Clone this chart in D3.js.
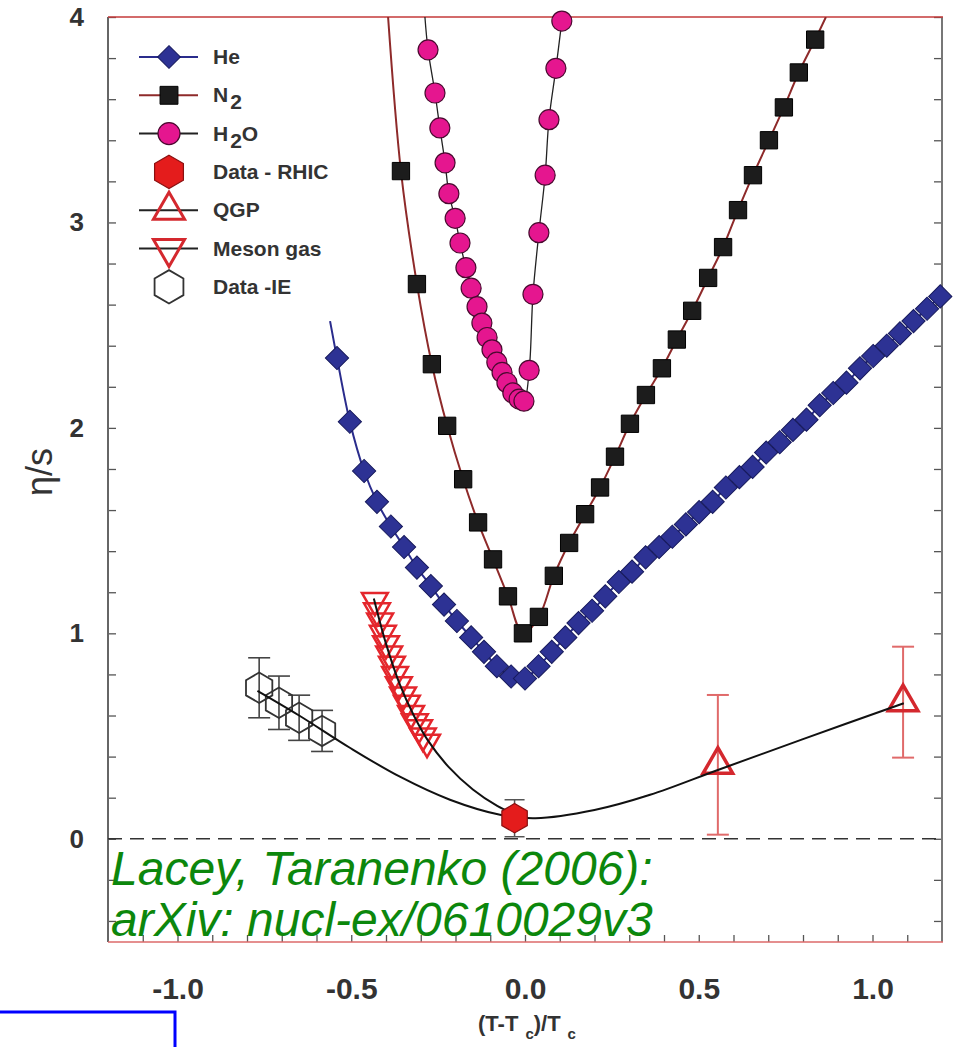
<!DOCTYPE html>
<html>
<head>
<meta charset="utf-8">
<script src="https://cdn.jsdelivr.net/npm/d3@7"></script>
<style>
  body { margin: 0; background: #fff; }
  svg { display: block; font-family: "Liberation Sans", Arial, sans-serif; }
</style>
</head>
<body>
<svg id="chart" width="959" height="1047"></svg>
<script>
// ---- data: (T-Tc)/Tc versus eta/s ----

// He, blue diamonds
var heX = [-0.541, -0.504, -0.463, -0.426, -0.386, -0.348, -0.311, -0.271, -0.233, -0.196, -0.155, -0.118, -0.081, -0.040, 0.000,
  0.039, 0.077, 0.116, 0.154, 0.193, 0.231, 0.270, 0.308, 0.347, 0.386, 0.424, 0.463, 0.501, 0.540, 0.578,
  0.617, 0.655, 0.694, 0.733, 0.771, 0.810, 0.848, 0.887, 0.925, 0.964, 1.002, 1.041, 1.079, 1.118, 1.157, 1.195];
var heY = [2.34, 2.03, 1.79, 1.64, 1.52, 1.42, 1.32, 1.23, 1.14, 1.06, 0.98, 0.91, 0.84, 0.79, 0.78,
  0.84, 0.91, 0.98, 1.05, 1.11, 1.18, 1.25, 1.30, 1.37, 1.42, 1.47, 1.53, 1.59, 1.64, 1.71,
  1.76, 1.81, 1.88, 1.93, 1.99, 2.04, 2.11, 2.17, 2.22, 2.29, 2.35, 2.40, 2.46, 2.52, 2.58, 2.64];
// where the He line starts above the first marker
var heStartX = [-0.561];
var heStartY = [2.52];

// N2, black squares
var n2X = [-0.357, -0.311, -0.268, -0.224, -0.178, -0.135, -0.092, -0.049, -0.006,
  0.040, 0.083, 0.127, 0.173, 0.216, 0.259, 0.302, 0.348, 0.394, 0.437, 0.481, 0.527, 0.570, 0.613, 0.656, 0.702, 0.745, 0.788, 0.835];
var n2Y = [3.25, 2.70, 2.31, 2.01, 1.75, 1.54, 1.36, 1.18, 1.00,
  1.08, 1.28, 1.44, 1.58, 1.71, 1.86, 2.02, 2.16, 2.29, 2.43, 2.57, 2.73, 2.88, 3.06, 3.23, 3.40, 3.56, 3.73, 3.89];
// the N2 line leaves the frame at the top on both sides
var n2EdgeX = [-0.394, 0.866];
var n2EdgeY = [4.0, 4.0];

// H2O, magenta circles
var h2oX = [-0.279, -0.259, -0.245, -0.230, -0.219, -0.201, -0.187, -0.170, -0.155, -0.138, -0.124, -0.109, -0.095, -0.081, -0.066, -0.052, -0.035, -0.017, -0.003,
  0.012, 0.023, 0.040, 0.058, 0.069, 0.089, 0.106];
var h2oY = [3.84, 3.63, 3.46, 3.29, 3.14, 3.02, 2.90, 2.78, 2.68, 2.59, 2.51, 2.44, 2.38, 2.32, 2.27, 2.22, 2.17, 2.14, 2.13,
  2.28, 2.65, 2.95, 3.23, 3.50, 3.75, 3.98];
var h2oStartX = [-0.288];
var h2oStartY = [4.0];

// Meson gas, open down triangles
var mesonX = [-0.432, -0.426, -0.417, -0.409, -0.400, -0.391, -0.383, -0.374, -0.363, -0.351, -0.340, -0.328, -0.317, -0.305, -0.294, -0.282];
var mesonY = [1.16, 1.11, 1.06, 1.00, 0.95, 0.90, 0.85, 0.80, 0.75, 0.70, 0.66, 0.61, 0.57, 0.54, 0.50, 0.47];
// black curve through the meson gas points down to the RHIC point
var mesonFitX = [-0.435, -0.40, -0.36, -0.32, -0.28, -0.22, -0.15, -0.08, -0.01];
var mesonFitY = [1.17, 0.95, 0.75, 0.60, 0.48, 0.35, 0.24, 0.16, 0.105];

// QGP, open up triangles with error bars
var qgpX = [0.555, 1.088];
var qgpY = [0.36, 0.665];
var qgpErr = [0.34, 0.27];

// Data - RHIC, filled red hexagon
var rhicX = [-0.03];
var rhicY = [0.10];
var rhicErr = [0.09];

// Data - IE, open hexagons with error bars
var ieX = [-0.765, -0.708, -0.650, -0.584];
var ieY = [0.735, 0.662, 0.589, 0.525];
var ieErr = [0.146, 0.13, 0.11, 0.10];

// black curve through IE, RHIC and QGP
var fitX = [-0.77, -0.65, -0.504, -0.36, -0.216, -0.072, 0.03, 0.20, 0.36, 0.555, 0.80, 1.09];
var fitY = [0.72, 0.60, 0.443, 0.302, 0.19, 0.117, 0.10, 0.14, 0.214, 0.335, 0.485, 0.66];

// tick labels
var xTickLabels = [-1.0, -0.5, 0.0, 0.5, 1.0];
var yTickLabels = [0, 1, 2, 3, 4];

// legend
var legendLabels = ["He", "N2", "H2O", "Data - RHIC", "QGP", "Meson gas", "Data -IE"];

// ---- drawing ----

var svg = d3.select("#chart");
svg.append("rect").attr("width", 959).attr("height", 1047).attr("fill", "#fff");

var x = d3.scaleLinear().domain([-1.2, 1.2]).range([108, 942]);
var y = d3.scaleLinear().domain([-0.5, 4]).range([941.5, 17]);

function pairs(xs, ys) {
  return xs.map(function (v, i) { return [v, ys[i]]; });
}

// hexagon with a vertex on top, as a d3 symbol type
var symbolHexagon = {
  draw: function (context, size) {
    var r = Math.sqrt(size / (1.5 * Math.sqrt(3)));
    for (var i = 0; i < 6; i++) {
      var a = Math.PI / 3 * i - Math.PI / 2;
      if (i === 0) context.moveTo(r * Math.cos(a), r * Math.sin(a));
      else context.lineTo(r * Math.cos(a), r * Math.sin(a));
    }
    context.closePath();
  }
};

var smooth = d3.line()
  .x(function (d) { return x(d[0]); })
  .y(function (d) { return y(d[1]); })
  .curve(d3.curveCatmullRom.alpha(0.5));

svg.append("clipPath").attr("id", "plotclip")
  .append("rect").attr("x", 108).attr("y", 17).attr("width", 834).attr("height", 924.5);

// ticks, all pointing into the frame
var yMinor = d3.range(-2, 21).map(function (i) { return i * 0.2; });
var xMinor = d3.range(-11, 12).map(function (i) { return i / 10; });

var isLabel = function (list) {
  return function (d) {
    return list.some(function (v) { return Math.abs(v - d) < 1e-6; });
  };
};
// plain hyphen as in the original, not the unicode minus
var fmt1 = function (d) { return d3.format(".1f")(d).replace("\u2212", "-"); };

var leftAxis = svg.append("g").attr("transform", "translate(108,0)")
  .call(d3.axisLeft(y).tickValues(yMinor).tickSize(-8).tickPadding(24)
    .tickFormat(function (d) { return isLabel(yTickLabels)(d) ? d3.format("d")(d) : ""; }));
var rightAxis = svg.append("g").attr("transform", "translate(942,0)")
  .call(d3.axisRight(y).tickValues(yMinor).tickSize(-8).tickFormat(""));
var bottomAxis = svg.append("g").attr("transform", "translate(0,942)")
  .call(d3.axisBottom(x).tickValues(xMinor).tickSize(-7).tickPadding(36)
    .tickFormat(function (d) { return isLabel(xTickLabels)(d) ? fmt1(d) : ""; }));

[leftAxis, rightAxis, bottomAxis].forEach(function (g) {
  g.select(".domain").remove();
  g.selectAll(".tick line").attr("stroke", "#555").attr("stroke-width", 1.3);
  g.selectAll(".tick text").attr("fill", "#333").attr("font-weight", "bold")
    .attr("font-family", "Liberation Sans, Arial, sans-serif");
});
leftAxis.selectAll(".tick text").attr("font-size", 26);
bottomAxis.selectAll(".tick text").attr("font-size", 30);

// frame
svg.append("line").attr("x1", 108).attr("x2", 108).attr("y1", 17).attr("y2", 942)
  .attr("stroke", "#666").attr("stroke-width", 2);
svg.append("line").attr("x1", 942).attr("x2", 942).attr("y1", 17).attr("y2", 942)
  .attr("stroke", "#777").attr("stroke-width", 2);
svg.append("line").attr("x1", 108).attr("x2", 943).attr("y1", 17).attr("y2", 17)
  .attr("stroke", "#c43a3a").attr("stroke-width", 1.6);
svg.append("line").attr("x1", 108).attr("x2", 943).attr("y1", 942).attr("y2", 942)
  .attr("stroke", "#dc6a6a").attr("stroke-width", 1.6);

// dashed zero line
svg.append("line").attr("x1", x(-1.2)).attr("x2", x(1.2)).attr("y1", y(0)).attr("y2", y(0))
  .attr("stroke", "#333").attr("stroke-width", 1.5).attr("stroke-dasharray", "14,8");

// axis titles
svg.append("text").attr("transform", "translate(52,472) rotate(-90)")
  .attr("text-anchor", "middle").attr("font-size", 36).attr("fill", "#333").text("η/s");

var xTitle = svg.append("text").attr("x", 527).attr("y", 1031).attr("text-anchor", "middle")
  .attr("font-size", 22).attr("font-weight", "bold").attr("fill", "#333");
xTitle.append("tspan").text("(T-T");
xTitle.append("tspan").attr("dx", 7).attr("dy", 8).attr("font-size", 15).text("c");
xTitle.append("tspan").attr("dy", -8).text(")/T");
xTitle.append("tspan").attr("dx", 7).attr("dy", 8).attr("font-size", 15).text("c");

// lines of the three fluids
var lines = svg.append("g").attr("clip-path", "url(#plotclip)");
lines.append("path")
  .attr("d", smooth(pairs(heStartX, heStartY).concat(pairs(heX, heY))))
  .attr("fill", "none").attr("stroke", "#2a2c8c").attr("stroke-width", 2);
lines.append("path")
  .attr("d", smooth([[n2EdgeX[0], n2EdgeY[0]]].concat(pairs(n2X, n2Y), [[n2EdgeX[1], n2EdgeY[1]]])))
  .attr("fill", "none").attr("stroke", "#8e2a2a").attr("stroke-width", 2);
lines.append("path")
  .attr("d", smooth(pairs(h2oStartX, h2oStartY).concat(pairs(h2oX, h2oY))))
  .attr("fill", "none").attr("stroke", "#222").attr("stroke-width", 1.3);

// markers of the three fluids
svg.append("g").selectAll("path").data(pairs(heX, heY)).enter().append("path")
  .attr("d", d3.symbol().type(d3.symbolSquare).size(270))
  .attr("transform", function (d) { return "translate(" + x(d[0]) + "," + y(d[1]) + ") rotate(45)"; })
  .attr("fill", "#2d3294").attr("stroke", "#171a5c").attr("stroke-width", 1);

svg.append("g").selectAll("path").data(pairs(n2X, n2Y)).enter().append("path")
  .attr("d", d3.symbol().type(d3.symbolSquare).size(300))
  .attr("transform", function (d) { return "translate(" + x(d[0]) + "," + y(d[1]) + ")"; })
  .attr("fill", "#1c1c1c").attr("stroke", "#000").attr("stroke-width", 1);

svg.append("g").selectAll("circle").data(pairs(h2oX, h2oY)).enter().append("circle")
  .attr("cx", function (d) { return x(d[0]); })
  .attr("cy", function (d) { return y(d[1]); })
  .attr("r", 10)
  .attr("fill", "#e5168f").attr("stroke", "#4a0a30").attr("stroke-width", 1.2);

// error bars
function errorBars(xs, ys, errs, color, width, cap) {
  var g = svg.append("g").attr("stroke", color).attr("stroke-width", width);
  xs.forEach(function (v, i) {
    var cx = x(v), top = y(ys[i] + errs[i]), bot = y(ys[i] - errs[i]);
    g.append("line").attr("x1", cx).attr("x2", cx).attr("y1", top).attr("y2", bot);
    g.append("line").attr("x1", cx - cap).attr("x2", cx + cap).attr("y1", top).attr("y2", top);
    g.append("line").attr("x1", cx - cap).attr("x2", cx + cap).attr("y1", bot).attr("y2", bot);
  });
}
errorBars(ieX, ieY, ieErr, "#444", 1.6, 11);
errorBars(qgpX, qgpY, qgpErr, "#e06a6a", 2, 11);
errorBars(rhicX, rhicY, rhicErr, "#555", 1.5, 10);

// open markers
svg.append("g").selectAll("path").data(pairs(ieX, ieY)).enter().append("path")
  .attr("d", d3.symbol().type(symbolHexagon).size(600))
  .attr("transform", function (d) { return "translate(" + x(d[0]) + "," + y(d[1]) + ")"; })
  .attr("fill", "none").attr("stroke", "#333").attr("stroke-width", 1.8);

svg.append("g").selectAll("path").data(pairs(mesonX, mesonY)).enter().append("path")
  .attr("d", d3.symbol().type(d3.symbolTriangle).size(290))
  .attr("transform", function (d) { return "translate(" + x(d[0]) + "," + y(d[1]) + ") rotate(180)"; })
  .attr("fill", "none").attr("stroke", "#e4262c").attr("stroke-width", 2.5);

svg.append("g").selectAll("path").data(pairs(qgpX, qgpY)).enter().append("path")
  .attr("d", d3.symbol().type(d3.symbolTriangle).size(380))
  .attr("transform", function (d) { return "translate(" + x(d[0]) + "," + y(d[1]) + ")"; })
  .attr("fill", "none").attr("stroke", "#d4282e").attr("stroke-width", 3.5);

// black fit curves
svg.append("path").attr("d", smooth(pairs(mesonFitX, mesonFitY)))
  .attr("fill", "none").attr("stroke", "#111").attr("stroke-width", 2);
svg.append("path").attr("d", smooth(pairs(fitX, fitY)))
  .attr("fill", "none").attr("stroke", "#111").attr("stroke-width", 2);

// RHIC point on top
svg.append("g").selectAll("path").data(pairs(rhicX, rhicY)).enter().append("path")
  .attr("d", d3.symbol().type(symbolHexagon).size(560))
  .attr("transform", function (d) { return "translate(" + x(d[0]) + "," + y(d[1]) + ")"; })
  .attr("fill", "#e41c1c").attr("stroke", "#8a1010").attr("stroke-width", 1.2);

// legend
var legend = svg.append("g");
var legendMarkers = [
  { type: d3.symbolSquare, size: 260, rot: 45, fill: "#2d3294", stroke: "#171a5c", sw: 1, line: "#2a2c8c" },
  { type: d3.symbolSquare, size: 320, rot: 0, fill: "#1c1c1c", stroke: "#000", sw: 1, line: "#8e2a2a" },
  { type: d3.symbolCircle, size: 380, rot: 0, fill: "#e5168f", stroke: "#4a0a30", sw: 1.2, line: "#222" },
  { type: symbolHexagon, size: 720, rot: 0, fill: "#e41c1c", stroke: "#8a1010", sw: 1.2, line: null },
  { type: d3.symbolTriangle, size: 420, rot: 0, fill: "none", stroke: "#d4282e", sw: 3, line: "#222" },
  { type: d3.symbolTriangle, size: 420, rot: 180, fill: "none", stroke: "#d4282e", sw: 3, line: "#222" },
  { type: symbolHexagon, size: 720, rot: 0, fill: "none", stroke: "#333", sw: 1.8, line: null }
];
legendLabels.forEach(function (label, i) {
  var m = legendMarkers[i];
  var ry = 57 + i * 38.3;
  if (m.line) {
    legend.append("line").attr("x1", 139).attr("x2", 198).attr("y1", ry).attr("y2", ry)
      .attr("stroke", m.line).attr("stroke-width", 2);
  }
  legend.append("path").attr("d", d3.symbol().type(m.type).size(m.size))
    .attr("transform", "translate(169," + ry + ") rotate(" + m.rot + ")")
    .attr("fill", m.fill).attr("stroke", m.stroke).attr("stroke-width", m.sw);
  var t = legend.append("text").attr("x", 213).attr("y", ry + 7)
    .attr("font-size", 21).attr("font-weight", "bold").attr("fill", "#333");
  // chemical formulas get a lowered digit
  if (label === "N2" || label === "H2O") {
    var parts = label.match(/[A-Za-z]+|\d/g);
    var low = false;
    parts.forEach(function (p) {
      var isDigit = /\d/.test(p);
      var s = t.append("tspan").text(p);
      if (isDigit && !low) { s.attr("dy", 7).attr("dx", 2); low = true; }
      else if (!isDigit && low) { s.attr("dy", -7); low = false; }
    });
  } else {
    t.text(label);
  }
});

// source note
var note = svg.append("g").attr("font-size", 48).attr("font-style", "italic").attr("fill", "#0c870c");
note.append("text").attr("x", 111).attr("y", 885).text("Lacey, Taranenko (2006):");
note.append("text").attr("x", 111).attr("y", 936).text("arXiv: nucl-ex/0610029v3");

// blue box in the lower left corner
svg.append("rect").attr("x", -5).attr("y", 1012).attr("width", 180).attr("height", 60)
  .attr("fill", "none").attr("stroke", "#0000ff").attr("stroke-width", 3);
</script>
</body>
</html>
